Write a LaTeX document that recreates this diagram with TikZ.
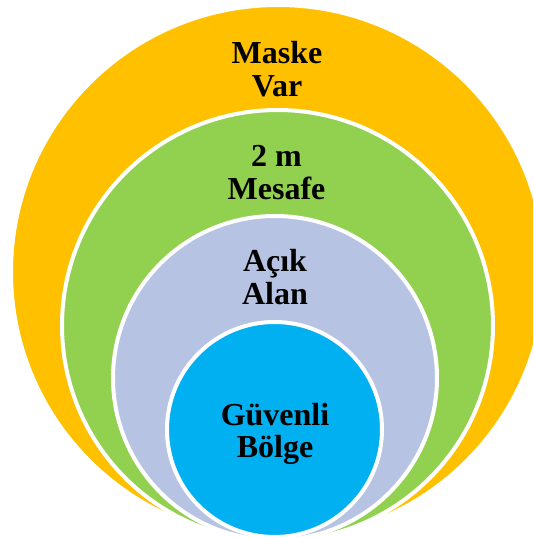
\documentclass[tikz,border=0pt]{standalone}
\usepackage{fontspec}
\setmainfont{Liberation Serif}
\usepackage{tikz}

\definecolor{maskorange}{HTML}{FFC000}
\definecolor{distgreen}{HTML}{92D050}
\definecolor{openlav}{HTML}{B6C3E2}
\definecolor{safeblue}{HTML}{00B0F0}

\tikzset{
    ring/.style={draw=white, line width=4pt},
    zone/.style={font=\fontsize{32}{32.5}\selectfont\bfseries, align=center, inner sep=0pt}
}

\begin{document}
\begin{tikzpicture}[x=1pt, y=-1pt]
    \useasboundingbox (0,0) rectangle (533,538);
    \clip (0,0) rectangle (533,538);
    % Outer ring
    \draw[ring, fill=maskorange] (278,272) circle (267);
    \node[zone] (maske) at (277,69) {Maske\\Var};
    % Distance ring
    \draw[ring, fill=distgreen] (277.5,325.5) circle (215.5);
    \node[zone] (mesafe) at (276.5,172.5) {2 m\\Mesafe};
    % Open area ring
    \draw[ring, fill=openlav] (275,378) circle (162);
    \node[zone] (acik) at (275,277) {A\c{c}\i k\\Alan};
    % Safe zone
    \draw[ring, fill=safeblue] (274.5,429.5) circle (107.5);
    \node[zone] (guvenli) at (275,434) {G\"uvenli\\B\"olge};
\end{tikzpicture}
\end{document}
